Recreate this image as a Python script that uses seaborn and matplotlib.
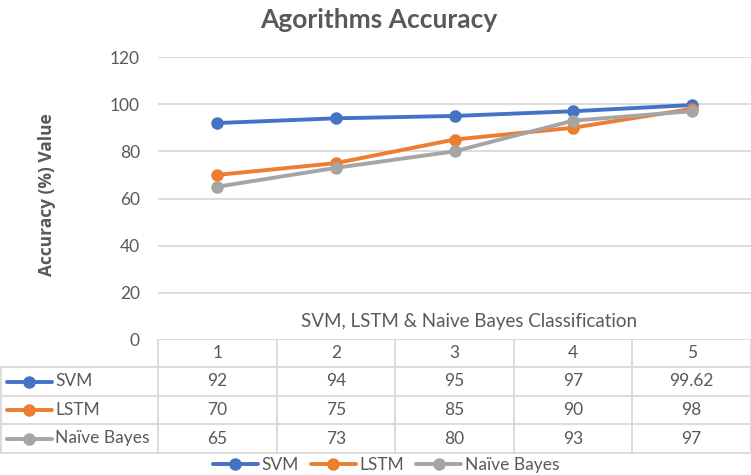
import matplotlib
matplotlib.use("Agg")
import matplotlib.pyplot as plt
import pandas as pd
import seaborn as sns
from matplotlib.lines import Line2D

# data
categories = ['1', '2', '3', '4', '5']
svm = [92, 94, 95, 97, 99.62]
lstm = [70, 75, 85, 90, 98]
naive_bayes = [65, 73, 80, 93, 97]
series_names = ['SVM', 'LSTM', 'Naïve Bayes']
series_colors = ['#4472C4', '#ED7D31', '#A5A5A5']
y_ticks = [0, 20, 40, 60, 80, 100, 120]

sns.set_theme(style='white')
plt.rcParams['font.family'] = ['Lato', 'DejaVu Sans']
text_col = '#595959'
grid_col = '#D9D9D9'

W, H = 751, 475
fig = plt.figure(figsize=(W / 100, H / 100), dpi=100)

# plot area (pixels)
left, right, top, bottom = 158, 751, 57, 340
ax = fig.add_axes([left / W, 1 - bottom / H, (right - left) / W, (bottom - top) / H])

df = pd.DataFrame({
    'pos': list(range(len(categories))) * 3,
    'value': svm + lstm + naive_bayes,
    'series': [n for n in series_names for _ in categories],
})
sns.lineplot(data=df, x='pos', y='value', hue='series', hue_order=series_names,
             palette=series_colors, marker='o', markersize=9, linewidth=2.8,
             markeredgewidth=0, legend=False, ax=ax, zorder=3)

ax.set_xlim(-0.5, len(categories) - 0.5)
ax.set_ylim(0, 120)
ax.set_yticks(y_ticks)
ax.set_xticks([])
ax.set_xlabel('')
ax.set_ylabel('')
ax.grid(axis='y', color=grid_col, lw=1.3)
for s in ax.spines.values():
    s.set_visible(False)
ax.tick_params(axis='y', labelsize=12.5, labelcolor=text_col, length=0, pad=13)

fig.text(379 / W, 1 - 20 / H, 'Agorithms Accuracy', ha='center', va='center',
         fontsize=19, fontweight='bold', color=text_col)
fig.text(47 / W, 1 - 195 / H, 'Accuracy (%) Value', rotation=90, ha='center', va='center',
         fontsize=12.5, fontweight='bold', color=text_col, family=['Open Sans', 'DejaVu Sans'])
fig.text(469 / W, 1 - 322 / H, 'SVM, LSTM & Naive Bayes Classification', ha='center',
         va='center', fontsize=13.5, color=text_col)

# data table drawn in pixel space
tab = fig.add_axes([0, 0, 1, 1])
tab.set_xlim(0, W)
tab.set_ylim(H, 0)
tab.axis('off')

row_edges = [340, 367, 396, 424, 453]
colw = (right - left) / len(categories)
for i in range(len(categories) + 1):
    x = left + i * colw
    tab.plot([x, x], [row_edges[0], row_edges[-1]], color=grid_col, lw=1.3)
tab.plot([1, 1], [row_edges[1], row_edges[-1]], color=grid_col, lw=1.3)
for y in row_edges[1:]:
    tab.plot([0, W], [y, y], color=grid_col, lw=1.3)

centers = [(row_edges[i] + row_edges[i + 1]) / 2 for i in range(len(row_edges) - 1)]
for j, cat in enumerate(categories):
    tab.text(left + (j + 0.5) * colw, centers[0], cat, ha='center', va='center',
             fontsize=12.5, color=text_col)

for r, (name, vals, c) in enumerate(zip(series_names, [svm, lstm, naive_bayes], series_colors)):
    yc = centers[r + 1]
    tab.plot([7, 52], [yc, yc], color=c, lw=2.8)
    tab.plot([29], [yc], marker='o', markersize=9, color=c, mew=0)
    tab.text(55, yc, name, ha='left', va='center', fontsize=12.5, color=text_col)
    for j, v in enumerate(vals):
        tab.text(left + (j + 0.5) * colw, yc, f'{v:g}', ha='center', va='center',
                 fontsize=12.5, color=text_col)

handles = [Line2D([], [], color=c, lw=2.8, marker='o', markersize=9, mew=0) for c in series_colors]
fig.legend(handles, series_names, loc='center', bbox_to_anchor=(386 / W, 1 - 465 / H), ncol=3,
           frameon=False, fontsize=12.5, handlelength=2.6, handletextpad=0.2, columnspacing=0.7,
           labelcolor=text_col, borderpad=0)

fig.savefig('out.png', dpi=100)
